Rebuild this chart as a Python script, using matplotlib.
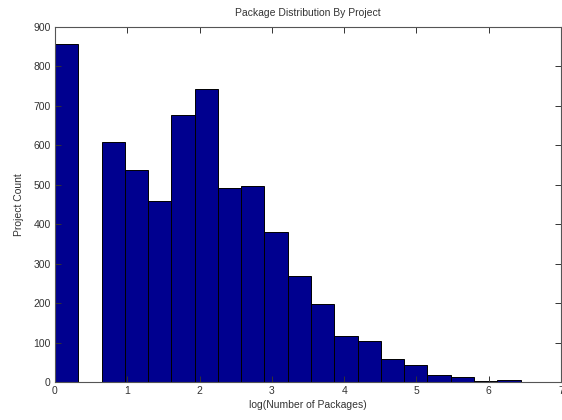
import numpy as np
import matplotlib
matplotlib.use("Agg")
import matplotlib.pyplot as plt

# histogram counts, 20 bins over log(number of packages)
counts = [858, 0, 608, 538, 459, 676, 744, 492, 497, 380,
          270, 198, 116, 103, 59, 42, 18, 12, 2, 5]
x_min, x_max = 0.0, 6.44
x_ticks = [0, 1, 2, 3, 4, 5, 6, 7]
y_ticks = [0, 100, 200, 300, 400, 500, 600, 700, 800, 900]

plt.rcParams['font.family'] = ['Liberation Sans', 'DejaVu Sans']

edges = np.linspace(x_min, x_max, len(counts) + 1)

fig = plt.figure(figsize=(5.62, 4.2), dpi=100)
ax = fig.add_axes([55 / 562, 38 / 420, 506 / 562, 355 / 420])

ax.bar(edges[:-1], counts, width=np.diff(edges), align='edge',
       color='#00008f', edgecolor='black', linewidth=0.7)

ax.set_xlim(0, 7)
ax.set_ylim(0, 900)
ax.set_xticks(x_ticks)
ax.set_yticks(y_ticks)
ax.tick_params(direction='in', top=True, right=True, length=4,
               width=0.7, labelsize=7.5, colors='#333333', pad=3)
for s in ax.spines.values():
    s.set_color('#555555')
    s.set_linewidth(0.8)

ax.set_title('Package Distribution By Project', fontsize=7.5, color='#333333', pad=8)
ax.set_xlabel('log(Number of Packages)', fontsize=7.5, color='#333333', labelpad=3)
ax.set_ylabel('Project Count', fontsize=7.5, color='#333333', labelpad=7)

fig.savefig('out.png', dpi=100)
